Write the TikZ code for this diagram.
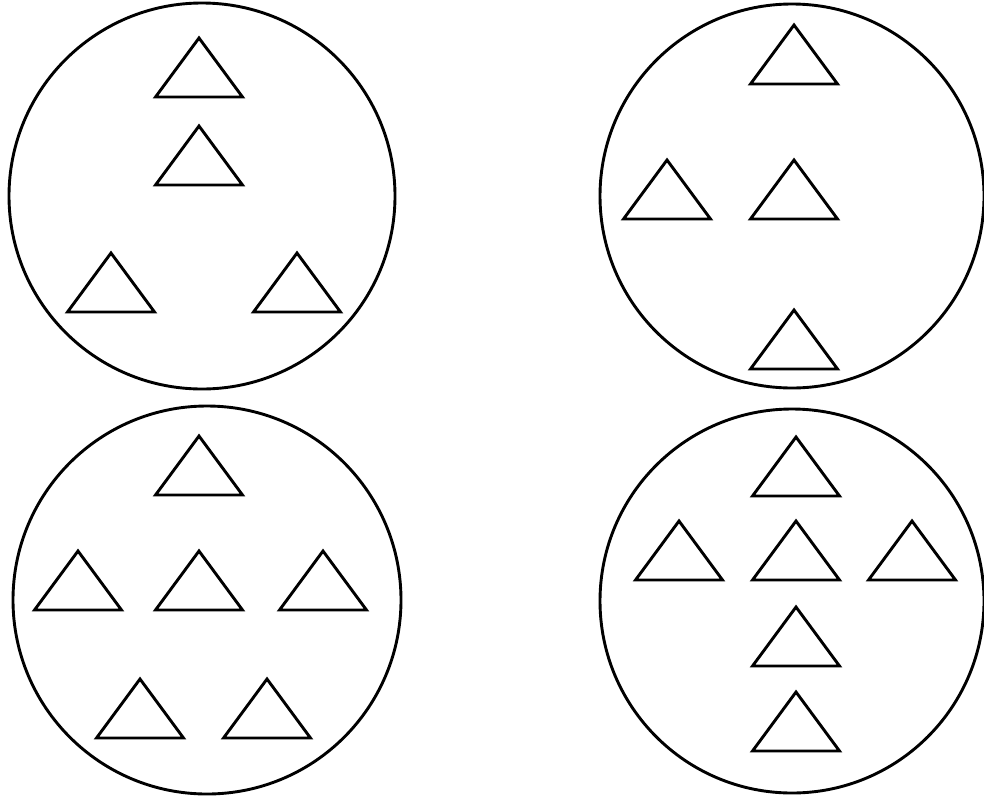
\documentclass[tikz,border=0pt]{standalone}
\begin{document}
\begin{tikzpicture}[x=1pt,y=-1pt,line width=2.9pt,
  tri/.pic={\draw[line join=miter] (0,0) -- (43.5,59) -- (-43.5,59) -- cycle;}]
\useasboundingbox (0,0) rectangle (984,798);
% circles
\draw (202,196) circle (193);
\draw (792,196) circle (192);
\draw (207,600) circle (194);
\draw (792,601) circle (192);
% circle 1
\foreach \x/\y in {199/38,199/126,111/253,297/253} \pic at (\x,\y) {tri};
% circle 2
\foreach \x/\y in {794/25,667/160,794/160,794/310} \pic at (\x,\y) {tri};
% circle 3
\foreach \x/\y in {199/436,78/551,199/551,323/551,140/679,267/679} \pic at (\x,\y) {tri};
% circle 4
\foreach \x/\y in {796/437,679/521,796/521,912/521,796/607,796/692} \pic at (\x,\y) {tri};
\end{tikzpicture}
\end{document}
